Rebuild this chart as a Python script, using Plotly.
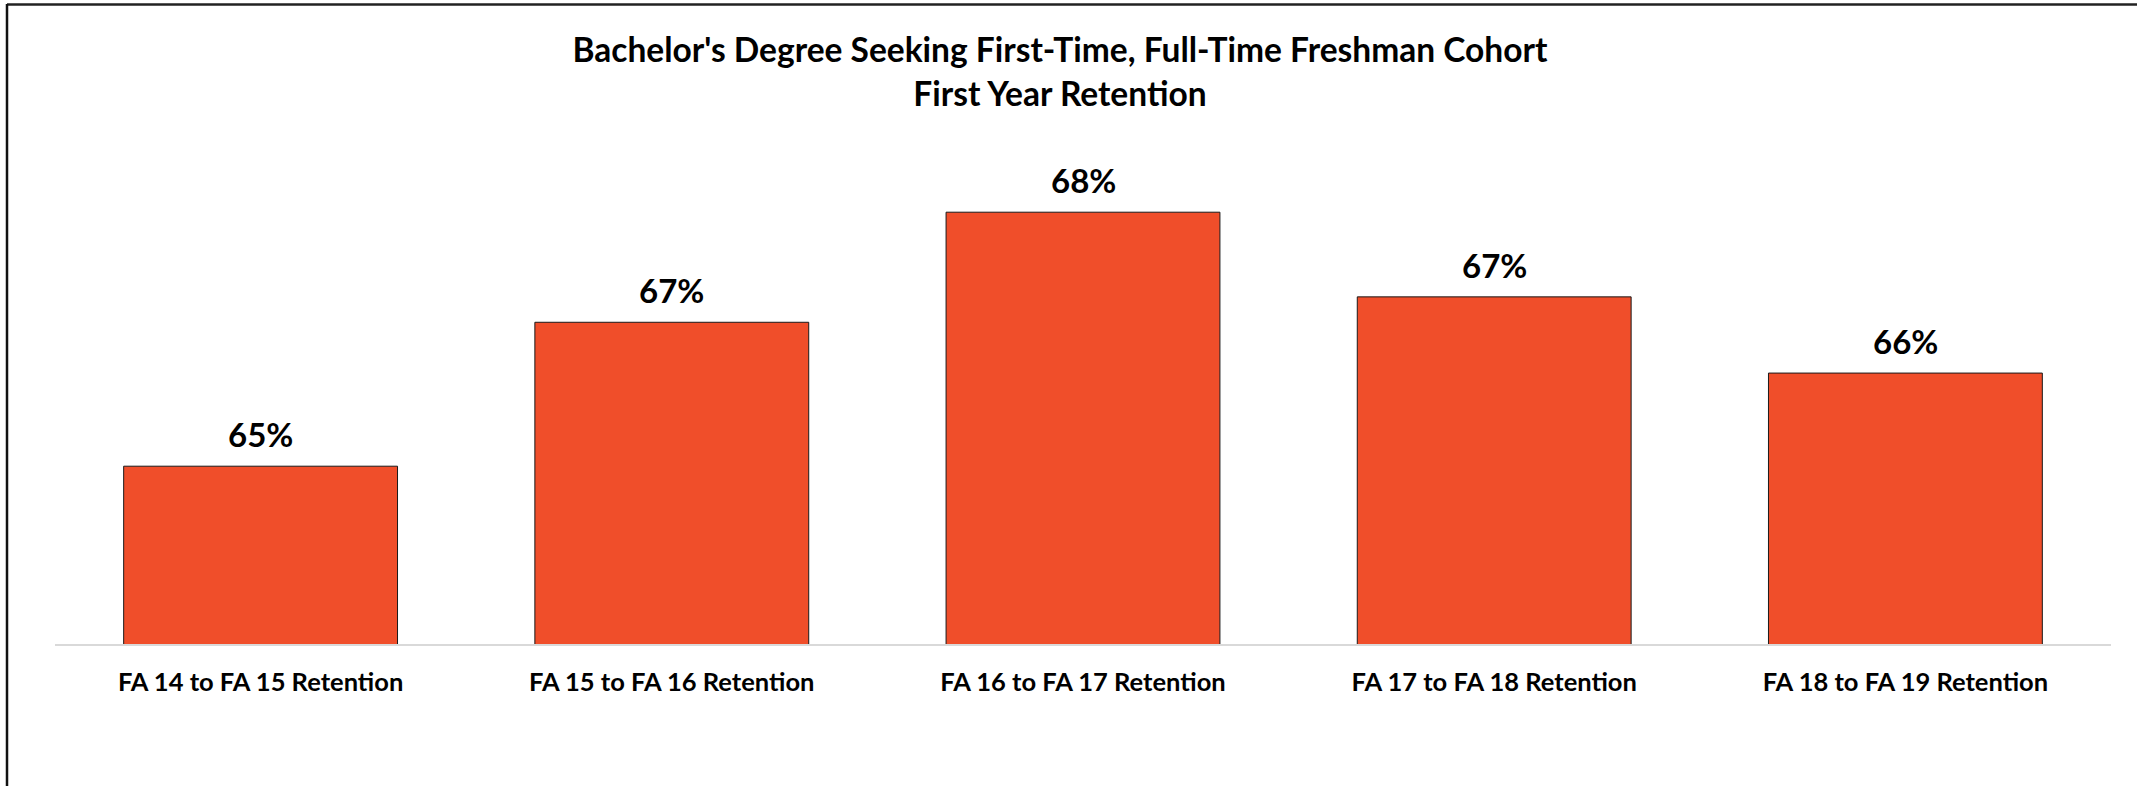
import plotly.graph_objects as go

categories = ["FA 14 to FA 15 Retention", "FA 15 to FA 16 Retention",
              "FA 16 to FA 17 Retention", "FA 17 to FA 18 Retention",
              "FA 18 to FA 19 Retention"]
retention = [0.651, 0.668, 0.681, 0.671, 0.662]
title_lines = ["Bachelor's Degree Seeking First-Time, Full-Time Freshman Cohort",
               "First Year Retention"]

FONT = "Lato"
BAR_COLOR = "#F04E2A"

fig = go.Figure()
fig.add_trace(go.Bar(
    x=categories, y=retention,
    marker=dict(color=BAR_COLOR, line=dict(color="#1a1a1a", width=1)),
    hoverinfo="x+y",
))

for c, v in zip(categories, retention):
    fig.add_annotation(x=c, y=v, text=f"<b>{v:.0%}</b>", showarrow=False,
                       yanchor="bottom", yshift=10,
                       font=dict(family=FONT, size=33, color="#000000"))

fig.update_layout(
    width=2137, height=786,
    margin=dict(l=55, r=26, t=136, b=142),
    paper_bgcolor="white", plot_bgcolor="white",
    bargap=0.334,
    showlegend=False,
    title=dict(text="<b>" + "<br>".join(title_lines) + "</b>",
               x=0.496, xref="container", xanchor="center",
               y=1 - 62 / 786, yref="container", yanchor="top",
               font=dict(family=FONT, size=33.5, color="#000000")),
    xaxis=dict(showline=True, linecolor="#d9d9d9", linewidth=2,
               showgrid=False, ticks="outside", ticklen=14,
               tickcolor="rgba(0,0,0,0)",
               tickfont=dict(family=FONT, size=25.5, color="#000000"),
               tickprefix="<b>", ticksuffix="</b>"),
    yaxis=dict(range=[0.63, 0.69], visible=False, showgrid=False),
)

# chart-area border (top and left edges visible)
fig.add_shape(type="line", xref="x domain", yref="y domain",
              x0=(7 - 55) / 2056, x1=(2137 - 55) / 2056,
              y0=(644 - 4.5) / 508, y1=(644 - 4.5) / 508,
              line=dict(color="#222222", width=2.5))
fig.add_shape(type="line", xref="x domain", yref="y domain",
              x0=(7 - 55) / 2056, x1=(7 - 55) / 2056,
              y0=(644 - 4) / 508, y1=(644 - 786) / 508,
              line=dict(color="#111111", width=2.5))

fig.write_html("out.html",
               config={"displayModeBar": False},
               post_script="document.body.style.margin='0';"
                           "document.body.style.overflow='hidden';")
